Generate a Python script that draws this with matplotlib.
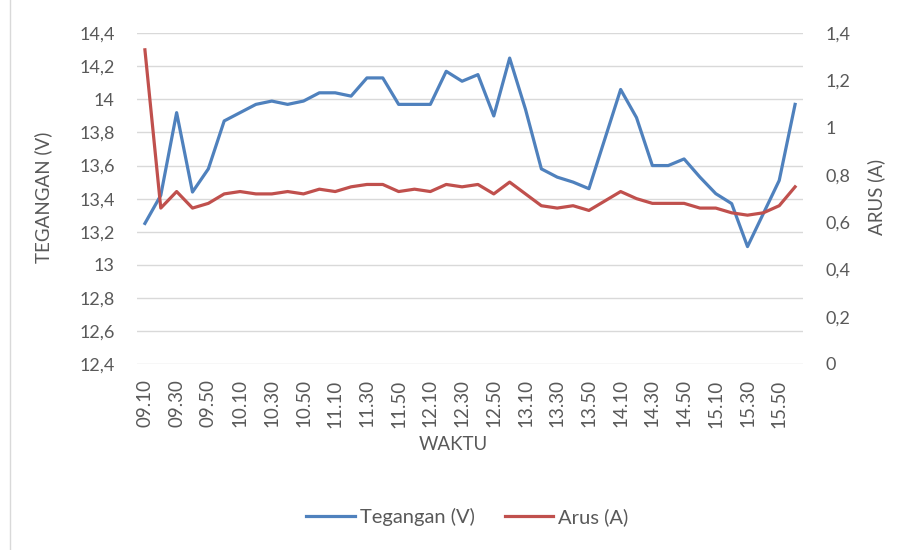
import numpy as np
import matplotlib
matplotlib.use("Agg")
import matplotlib.pyplot as plt
from matplotlib.ticker import FuncFormatter

plt.rcParams['font.family'] = ['Lato', 'DejaVu Sans']

# --- data ---
waktu = ["09.10", "09.20", "09.30", "09.40", "09.50", "10.00", "10.10", "10.20",
         "10.30", "10.40", "10.50", "11.00", "11.10", "11.20", "11.30", "11.40",
         "11.50", "12.00", "12.10", "12.20", "12.30", "12.40", "12.50", "13.00",
         "13.10", "13.20", "13.30", "13.40", "13.50", "14.00", "14.10", "14.20",
         "14.30", "14.40", "14.50", "15.00", "15.10", "15.20", "15.30", "15.40",
         "15.50", "16.00"]

tegangan = [13.25, 13.42, 13.92, 13.44, 13.58, 13.87, 13.92, 13.97,
            13.99, 13.97, 13.99, 14.04, 14.04, 14.02, 14.13, 14.13,
            13.97, 13.97, 13.97, 14.17, 14.11, 14.15, 13.90, 14.25,
            13.94, 13.58, 13.53, 13.50, 13.46, 13.76, 14.06, 13.89,
            13.60, 13.60, 13.64, 13.53, 13.43, 13.37, 13.11, 13.31,
            13.51, 13.97]

arus = [1.33, 0.66, 0.73, 0.66, 0.68, 0.72, 0.73, 0.72,
        0.72, 0.73, 0.72, 0.74, 0.73, 0.75, 0.76, 0.76,
        0.73, 0.74, 0.73, 0.76, 0.75, 0.76, 0.72, 0.77,
        0.72, 0.67, 0.66, 0.67, 0.65, 0.69, 0.73, 0.70,
        0.68, 0.68, 0.68, 0.66, 0.66, 0.64, 0.63, 0.64,
        0.67, 0.75]

teg_ticks = [12.4, 12.6, 12.8, 13.0, 13.2, 13.4, 13.6, 13.8, 14.0, 14.2, 14.4]
arus_ticks = [0, 0.2, 0.4, 0.6, 0.8, 1.0, 1.2, 1.4]

grey = "#595959"
blue = "#4f81bd"
red = "#c0504d"


def koma(v, pos):
    s = f"{v:.1f}"
    if s.endswith(".0"):
        s = s[:-2]
    return s.replace(".", ",")


fig = plt.figure(figsize=(9.09, 5.5), dpi=100)
ax = fig.add_axes([0.1507, 0.3382, 0.7327, 0.6013])
ax2 = ax.twinx()

x = np.arange(len(waktu))
l1, = ax.plot(x, tegangan, color=blue, lw=2.3, label="Tegangan (V)", zorder=3)
l2, = ax2.plot(x, arus, color=red, lw=2.3, label="Arus (A)", zorder=3)

ax.set_xlim(-0.5, len(waktu) - 0.5)
ax.set_ylim(12.4, 14.4)
ax2.set_ylim(0, 1.4)
ax.set_yticks(teg_ticks)
ax2.set_yticks(arus_ticks)
ax.yaxis.set_major_formatter(FuncFormatter(koma))
ax2.yaxis.set_major_formatter(FuncFormatter(koma))

ax.set_xticks(x[::2])
ax.set_xticklabels(waktu[::2], rotation=90)

ax.grid(axis="y", color="#d9d9d9", lw=1.0)
ax.set_axisbelow(True)
for a in (ax, ax2):
    for sp in a.spines.values():
        sp.set_visible(False)
    a.tick_params(length=0, colors=grey, labelsize=13)
ax.tick_params(axis="y", pad=16)
ax2.tick_params(axis="y", pad=16)
ax.tick_params(axis="x", pad=11, labelsize=13.5)

ax.set_xlabel("WAKTU", color=grey, fontsize=13.5)
ax.set_ylabel("TEGANGAN (V)", color=grey, fontsize=13.5)
ax2.set_ylabel("ARUS (A)", color=grey, fontsize=13.5)
ax.xaxis.set_label_coords(0.475, -0.218)
ax.yaxis.set_label_coords(-0.128, 0.505)
ax2.yaxis.set_label_coords(1.096, 0.505)

fig.legend(handles=[l1, l2], loc="center", bbox_to_anchor=(0.514, 0.06),
           ncol=2, frameon=False, fontsize=14.5, labelcolor=grey,
           handlelength=2.4, handletextpad=0.25, columnspacing=1.5)

# light chart border at the left edge
fig.add_artist(plt.Line2D([10 / 909, 10 / 909], [0, 1], color="#d9d9d9", lw=1.0))

fig.savefig("out.png", dpi=100)
